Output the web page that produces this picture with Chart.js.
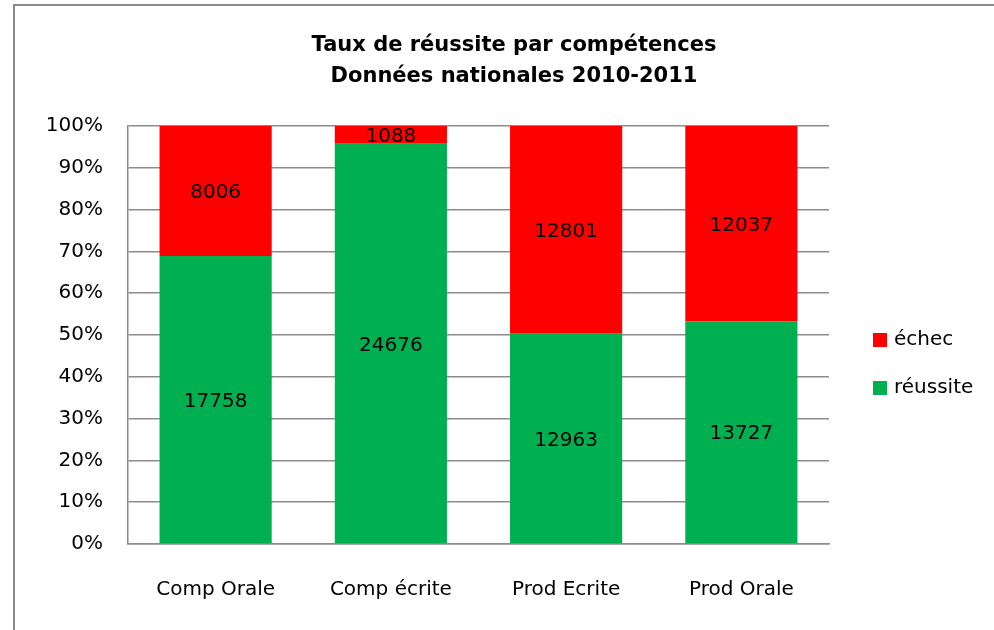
<!DOCTYPE html>
<html>
<head>
<meta charset="utf-8">
<script src="https://cdn.jsdelivr.net/npm/chart.js@4/dist/chart.umd.min.js"></script>
<style>
  body { margin: 0; background: #fff; overflow: hidden; }
  #cadre { position: absolute; left: 13px; top: 4px; width: 1200px; height: 1000px;
           border: 2px solid #8a8a8a; pointer-events: none; }
  canvas { position: absolute; left: 0; top: 0; }
</style>
</head>
<body>
<canvas id="graphique" width="994" height="630"></canvas>
<div id="cadre"></div>
<script>
// Données (effectifs par compétence)
const categories = ['Comp Orale', 'Comp écrite', 'Prod Ecrite', 'Prod Orale'];
const reussite = [17758, 24676, 12963, 13727];
const echec = [8006, 1088, 12801, 12037];
const titre = ['Taux de réussite par compétences', 'Données nationales 2010-2011'];

const police = 'DejaVu Sans';

// Pourcentages pour l'empilement à 100 %
const pctReussite = reussite.map((v, i) => v / (v + echec[i]) * 100);
const pctEchec = echec.map((v, i) => v / (reussite[i] + v) * 100);

// Titre, légende et étiquettes de valeurs
const habillage = {
    id: 'habillage',
    afterDraw(chart) {
        const ctx = chart.ctx;
        ctx.save();
        ctx.fillStyle = '#000';

        // étiquettes au centre de chaque segment
        ctx.font = '20px ' + police;
        ctx.textAlign = 'center';
        ctx.textBaseline = 'middle';
        chart.data.datasets.forEach((ds, d) => {
            chart.getDatasetMeta(d).data.forEach((bar, i) => {
                ctx.fillText(String(ds.counts[i]), bar.x, (bar.y + bar.base) / 2 + 2);
            });
        });

        // titre
        ctx.font = 'bold 21px ' + police;
        titre.forEach((ligne, k) => ctx.fillText(ligne, 514, 46 + k * 31));

        // légende (ordre inverse : échec en haut)
        ctx.font = '20px ' + police;
        ctx.textAlign = 'left';
        const ordre = chart.data.datasets.slice().reverse();
        ordre.forEach((ds, k) => {
            const y = 340 + k * 48;
            ctx.fillStyle = ds.backgroundColor;
            ctx.fillRect(873, y - 7, 14, 14);
            ctx.fillStyle = '#000';
            ctx.fillText(ds.label, 894, y);
        });
        ctx.restore();
    }
};

new Chart(document.getElementById('graphique'), {
    type: 'bar',
    data: {
        labels: categories,
        datasets: [
            { label: 'réussite', data: pctReussite, counts: reussite, backgroundColor: '#00B050',
              barPercentage: 0.64, categoryPercentage: 1 },
            { label: 'échec', data: pctEchec, counts: echec, backgroundColor: '#FF0000',
              barPercentage: 0.64, categoryPercentage: 1 }
        ]
    },
    options: {
        responsive: false,
        animation: false,
        layout: { padding: { left: 28, right: 165, top: 126, bottom: 0 } },
        plugins: {
            legend: { display: false },
            title: { display: false },
            tooltip: { enabled: false }
        },
        scales: {
            x: {
                stacked: true,
                grid: { display: false },
                border: { color: '#8c8c8c', width: 1.5 },
                ticks: { color: '#000', font: { family: police, size: 20 }, padding: 26 },
                afterFit: s => { s.height = 86; }
            },
            y: {
                stacked: true,
                min: 0,
                max: 100,
                grid: { color: '#8c8c8c', lineWidth: 1.5, drawTicks: false },
                border: { color: '#8c8c8c', width: 1.5 },
                ticks: {
                    stepSize: 10,
                    color: '#000',
                    font: { family: police, size: 20 },
                    padding: 25,
                    callback: v => v + '%'
                },
                afterFit: s => { s.width = 100; }
            }
        }
    },
    plugins: [habillage]
});
</script>
</body>
</html>
